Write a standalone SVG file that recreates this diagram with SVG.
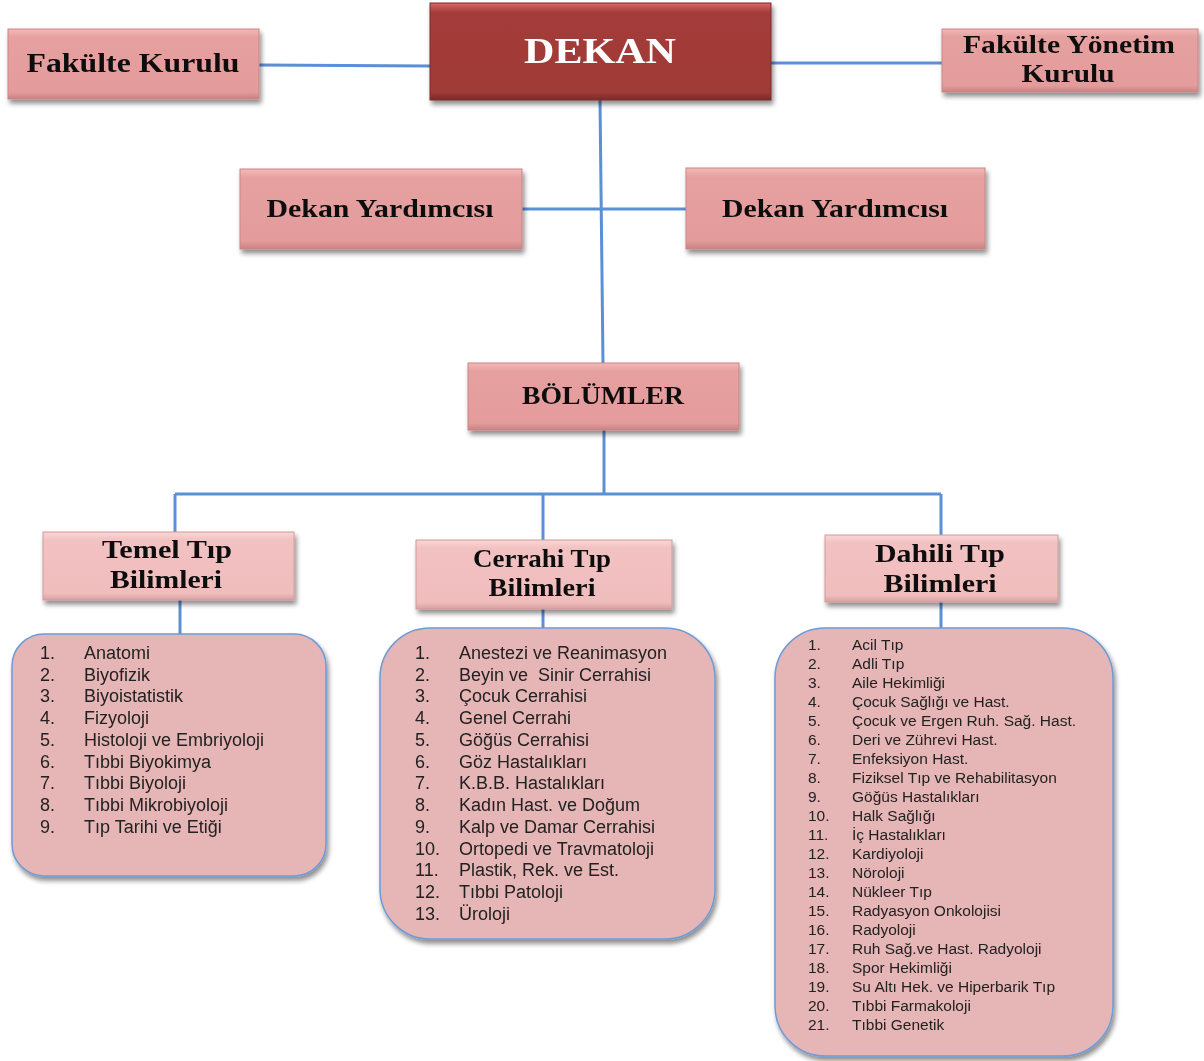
<svg xmlns="http://www.w3.org/2000/svg" width="1204" height="1061" viewBox="0 0 1204 1061">
<defs>
<style>
.conn{stroke:#5b8fd6;stroke-width:3;fill:none}
.box{fill:url(#gPink);stroke:#c98585;stroke-width:1}
.boxL{fill:url(#gLight);stroke:#d29a9a;stroke-width:1}
.list{fill:#e6b5b5;stroke:#6d9bd9;stroke-width:1.5}
.h{font-family:"Liberation Serif","DejaVu Serif",serif;font-weight:bold;fill:#111;text-anchor:middle}
.li{font-family:"Liberation Sans",Arial,sans-serif;fill:#222;font-size:18px}
.ls{font-family:"Liberation Sans",Arial,sans-serif;fill:#222;font-size:15.5px}
</style>
<linearGradient id="gPink" x1="0" y1="0" x2="0" y2="1">
<stop offset="0" stop-color="#f2b9b8"/><stop offset="0.12" stop-color="#e6a09f"/><stop offset="0.9" stop-color="#e39c9b"/><stop offset="1" stop-color="#c98282"/>
</linearGradient>
<linearGradient id="gLight" x1="0" y1="0" x2="0" y2="1">
<stop offset="0" stop-color="#fbd6d6"/><stop offset="0.12" stop-color="#f2c1c1"/><stop offset="0.9" stop-color="#f0bdbd"/><stop offset="1" stop-color="#d9a0a0"/>
</linearGradient>
<linearGradient id="gDark" x1="0" y1="0" x2="0" y2="1">
<stop offset="0" stop-color="#d96664"/><stop offset="0.1" stop-color="#a33c3a"/><stop offset="0.92" stop-color="#a03a38"/><stop offset="1" stop-color="#7a2a28"/>
</linearGradient>
<filter id="sh" x="-10%" y="-10%" width="125%" height="130%">
<feGaussianBlur in="SourceAlpha" stdDeviation="2.5"/>
<feOffset dx="2" dy="4" result="b"/>
<feComponentTransfer><feFuncA type="linear" slope="0.45"/></feComponentTransfer>
<feMerge><feMergeNode/><feMergeNode in="SourceGraphic"/></feMerge>
</filter>
</defs>
<rect width="1204" height="1061" fill="#ffffff"/>

<g id="connectors">
<path class="conn" d="M259,65 L430,66"/>
<path class="conn" d="M771,63 L942,63"/>
<path class="conn" d="M600,100 L603,363"/>
<path class="conn" d="M522,209 L686,209"/>
<path class="conn" d="M604,430 L604,494"/>
<path class="conn" d="M175,494 L941,494"/>
<path class="conn" d="M175,494 L175,532"/>
<path class="conn" d="M543,494 L543,540"/>
<path class="conn" d="M941,494 L941,535"/>
<path class="conn" d="M180,600 L180,634"/>
<path class="conn" d="M543,609 L543,628"/>
<path class="conn" d="M941,602 L941,628"/>
</g>

<g id="fakulte-kurulu" filter="url(#sh)">
<rect class="box" x="8" y="29" width="251" height="70"/>
<text class="h" x="133" y="72" font-size="27" textLength="213" lengthAdjust="spacingAndGlyphs">Fakülte Kurulu</text>
</g>

<g id="dekan" filter="url(#sh)">
<rect x="430" y="3" width="341" height="97" fill="url(#gDark)" stroke="#7d2c2a" stroke-width="1"/>
<text x="600" y="63" font-family="Liberation Serif,DejaVu Serif,serif" font-weight="bold" font-size="36" fill="#ffffff" text-anchor="middle" textLength="152" lengthAdjust="spacingAndGlyphs">DEKAN</text>
</g>

<g id="fakulte-yonetim-kurulu" filter="url(#sh)">
<rect class="box" x="942" y="29" width="256" height="63"/>
<text class="h" x="1069" y="53" font-size="25" textLength="212" lengthAdjust="spacingAndGlyphs">Fakülte Yönetim</text>
<text class="h" x="1068" y="82" font-size="25" textLength="93" lengthAdjust="spacingAndGlyphs">Kurulu</text>
</g>

<g id="dekan-yardimcisi-1" filter="url(#sh)">
<rect class="box" x="240" y="169" width="282" height="80"/>
<text class="h" x="380" y="217" font-size="25" textLength="227" lengthAdjust="spacingAndGlyphs">Dekan Yardımcısı</text>
</g>

<g id="dekan-yardimcisi-2" filter="url(#sh)">
<rect class="box" x="686" y="168" width="299" height="81"/>
<text class="h" x="835" y="217" font-size="25" textLength="226" lengthAdjust="spacingAndGlyphs">Dekan Yardımcısı</text>
</g>

<g id="bolumler" filter="url(#sh)">
<rect class="box" x="468" y="363" width="271" height="67"/>
<text class="h" x="603" y="404" font-size="25" textLength="162" lengthAdjust="spacingAndGlyphs">BÖLÜMLER</text>
</g>

<g id="temel-tip" filter="url(#sh)">
<rect class="boxL" x="43" y="532" width="251" height="68"/>
<text class="h" x="167" y="558" font-size="25" textLength="130" lengthAdjust="spacingAndGlyphs">Temel Tıp</text>
<text class="h" x="166" y="588" font-size="25" textLength="112" lengthAdjust="spacingAndGlyphs">Bilimleri</text>
</g>

<g id="cerrahi-tip" filter="url(#sh)">
<rect class="boxL" x="416" y="540" width="256" height="69"/>
<text class="h" x="542" y="567" font-size="25" textLength="138" lengthAdjust="spacingAndGlyphs">Cerrahi Tıp</text>
<text class="h" x="542" y="596" font-size="25" textLength="107" lengthAdjust="spacingAndGlyphs">Bilimleri</text>
</g>

<g id="dahili-tip" filter="url(#sh)">
<rect class="boxL" x="825" y="535" width="233" height="67"/>
<text class="h" x="940" y="562" font-size="25" textLength="130" lengthAdjust="spacingAndGlyphs">Dahili Tıp</text>
<text class="h" x="940" y="592" font-size="25" textLength="113" lengthAdjust="spacingAndGlyphs">Bilimleri</text>
</g>

<g id="temel-list" filter="url(#sh)">
<rect class="list" x="12" y="634" width="314" height="242" rx="32"/>
<g class="li">
<text x="40" y="659">1.</text><text x="84" y="659">Anatomi</text>
<text x="40" y="681">2.</text><text x="84" y="681">Biyofizik</text>
<text x="40" y="702">3.</text><text x="84" y="702">Biyoistatistik</text>
<text x="40" y="724">4.</text><text x="84" y="724">Fizyoloji</text>
<text x="40" y="746">5.</text><text x="84" y="746">Histoloji ve Embriyoloji</text>
<text x="40" y="768">6.</text><text x="84" y="768">Tıbbi Biyokimya</text>
<text x="40" y="789">7.</text><text x="84" y="789">Tıbbi Biyoloji</text>
<text x="40" y="811">8.</text><text x="84" y="811">Tıbbi Mikrobiyoloji</text>
<text x="40" y="833">9.</text><text x="84" y="833">Tıp Tarihi ve Etiği</text>
</g>
</g>

<g id="cerrahi-list" filter="url(#sh)">
<rect class="list" x="380" y="628" width="335" height="311" rx="50"/>
<g class="li">
<text x="415" y="659">1.</text><text x="459" y="659">Anestezi ve Reanimasyon</text>
<text x="415" y="681">2.</text><text x="459" y="681" xml:space="preserve">Beyin ve  Sinir Cerrahisi</text>
<text x="415" y="702">3.</text><text x="459" y="702">Çocuk Cerrahisi</text>
<text x="415" y="724">4.</text><text x="459" y="724">Genel Cerrahi</text>
<text x="415" y="746">5.</text><text x="459" y="746">Göğüs Cerrahisi</text>
<text x="415" y="768">6.</text><text x="459" y="768">Göz Hastalıkları</text>
<text x="415" y="789">7.</text><text x="459" y="789">K.B.B. Hastalıkları</text>
<text x="415" y="811">8.</text><text x="459" y="811">Kadın Hast. ve Doğum</text>
<text x="415" y="833">9.</text><text x="459" y="833">Kalp ve Damar Cerrahisi</text>
<text x="415" y="855">10.</text><text x="459" y="855">Ortopedi ve Travmatoloji</text>
<text x="415" y="876">11.</text><text x="459" y="876">Plastik, Rek. ve Est.</text>
<text x="415" y="898">12.</text><text x="459" y="898">Tıbbi Patoloji</text>
<text x="415" y="920">13.</text><text x="459" y="920">Üroloji</text>
</g>
</g>

<g id="dahili-list" filter="url(#sh)">
<rect class="list" x="775" y="628" width="338" height="428" rx="50"/>
<g class="ls">
<text x="808" y="650">1.</text><text x="852" y="650">Acil Tıp</text>
<text x="808" y="669">2.</text><text x="852" y="669">Adli Tıp</text>
<text x="808" y="688">3.</text><text x="852" y="688">Aile Hekimliği</text>
<text x="808" y="707">4.</text><text x="852" y="707">Çocuk Sağlığı ve Hast.</text>
<text x="808" y="726">5.</text><text x="852" y="726">Çocuk ve Ergen Ruh. Sağ. Hast.</text>
<text x="808" y="745">6.</text><text x="852" y="745">Deri ve Zührevi Hast.</text>
<text x="808" y="764">7.</text><text x="852" y="764">Enfeksiyon Hast.</text>
<text x="808" y="783">8.</text><text x="852" y="783">Fiziksel Tıp ve Rehabilitasyon</text>
<text x="808" y="802">9.</text><text x="852" y="802">Göğüs Hastalıkları</text>
<text x="808" y="821">10.</text><text x="852" y="821">Halk Sağlığı</text>
<text x="808" y="840">11.</text><text x="852" y="840">İç Hastalıkları</text>
<text x="808" y="859">12.</text><text x="852" y="859">Kardiyoloji</text>
<text x="808" y="878">13.</text><text x="852" y="878">Nöroloji</text>
<text x="808" y="897">14.</text><text x="852" y="897">Nükleer Tıp</text>
<text x="808" y="916">15.</text><text x="852" y="916">Radyasyon Onkolojisi</text>
<text x="808" y="935">16.</text><text x="852" y="935">Radyoloji</text>
<text x="808" y="954">17.</text><text x="852" y="954">Ruh Sağ.ve Hast. Radyoloji</text>
<text x="808" y="973">18.</text><text x="852" y="973">Spor Hekimliği</text>
<text x="808" y="992">19.</text><text x="852" y="992">Su Altı Hek. ve Hiperbarik Tıp</text>
<text x="808" y="1011">20.</text><text x="852" y="1011">Tıbbi Farmakoloji</text>
<text x="808" y="1030">21.</text><text x="852" y="1030">Tıbbi Genetik</text>
</g>
</g>
</svg>
